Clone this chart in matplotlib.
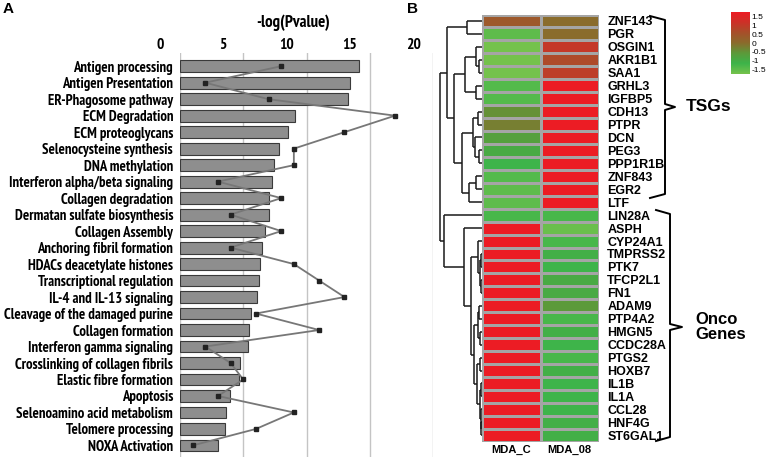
import numpy as np
import matplotlib
matplotlib.use("Agg")
import matplotlib.pyplot as plt
from matplotlib import font_manager as fm
from matplotlib.colors import LinearSegmentedColormap
from matplotlib.transforms import ScaledTranslation

# Panel A: pathway enrichment
pathways = [
    "Antigen processing", "Antigen Presentation", "ER-Phagosome pathway",
    "ECM Degradation", "ECM proteoglycans", "Selenocysteine synthesis",
    "DNA methylation", "Interferon alpha/beta signaling", "Collagen degradation",
    "Dermatan sulfate biosynthesis", "Collagen Assembly", "Anchoring fibril formation",
    "HDACs deacetylate histones", "Transcriptional regulation", "IL-4 and IL-13 signaling",
    "Cleavage of the damaged purine", "Collagen formation", "Interferon gamma signaling",
    "Crosslinking of collagen fibrils", "Elastic fibre formation", "Apoptosis",
    "Selenoamino acid metabolism", "Telomere processing", "NOXA Activation",
]
neg_log_p = [14.15, 13.4, 13.25, 9.07, 8.5, 7.85, 7.43, 7.25, 7.06, 7.0, 6.72, 6.46,
             6.32, 6.27, 6.06, 5.59, 5.45, 5.35, 4.77, 4.69, 3.95, 3.64, 3.53, 2.98]
gene_counts = [8, 2, 7, 17, 13, 9, 9, 3, 8, 4, 8, 4, 9, 11, 13, 6, 11, 2, 4, 5, 3, 9, 6, 1]
x_ticks = [0, 5, 10, 15, 20]

# Panel B: heatmap
genes = ["ZNF143", "PGR", "OSGIN1", "AKR1B1", "SAA1", "GRHL3", "IGFBP5", "CDH13",
         "PTPR", "DCN", "PEG3", "PPP1R1B", "ZNF843", "EGR2", "LTF",
         "LIN28A", "ASPH", "CYP24A1", "TMPRSS2", "PTK7", "TFCP2L1", "FN1", "ADAM9",
         "PTP4A2", "HMGN5", "CCDC28A", "PTGS2", "HOXB7", "IL1B", "IL1A", "CCL28",
         "HNF4G", "ST6GAL1"]
samples = ["MDA_C", "MDA_08"]
mda_c = [0.35, -1.3, -1.5, -1.5, -1.5, -1.2, -1.2, -0.4, -0.2, -0.6, -0.8, -1.0,
         -1.2, -1.3, -1.3, -1.1] + [1.5] * 17
mda_08 = [0.0, 0.0, 0.9, 0.6, 0.8, 1.5, 1.5, 1.5, 1.5, 1.5, 1.5, 1.5, 1.5, 1.5, 1.5,
          -1.1, -1.4, -1.1, -0.9, -1.0, -0.8, -0.8, -0.5, -1.1, -0.9, -1.0, -1.1,
          -0.9, -1.0, -1.0, -1.0, -0.9, -0.9]
cbar_ticks = [1.5, 1, 0.5, 0, -0.5, -1, -1.5]

# row clustering tree: (left, right, merge height); ints are row indices
tsg_tree = (
    (0, 1, 15.3),
    (((2, (3, 4, 3), 6), (5, 6, 6), 17),
     (((7, 8, 4), (9, (10, 11, 3), 7), 9.3), ((12, 13, 6), 14, 13), 20.3),
     27.7),
    35.3)
onco_tree = (
    15,
    (16,
     ((17, ((18, 19, 1.5), (20, 21, 1.5), 2.5), 4),
      (((22, 23, 3), (24, 25, 2), 4),
       ((26, 27, 2), ((28, 29, 1.5), (30, (31, 32, 1), 1.5), 2.5), 5), 8),
      11),
     18),
    38)
row_tree = (tsg_tree, onco_tree, 42)

W, H = 767, 458
plt.rcParams["font.family"] = ["Liberation Sans", "DejaVu Sans"]


# look for a narrow bold face for panel A (Arial Narrow look)
def narrow_bold():
    best = None
    for f in fm.fontManager.ttflist:
        name = (f.name + " " + str(f.stretch)).lower()
        narrow = any(k in name for k in ("narrow", "condensed")) or f.stretch in (
            "condensed", "semi-condensed", "extra-condensed")
        if not narrow:
            continue
        w = f.weight if isinstance(f.weight, int) else 400
        if f.weight == "bold":
            w = 700
        score = abs(w - 700) + (0 if "narrow" in name else 1)
        if best is None or score < best[0]:
            best = (score, f.fname)
    if best is None:
        return fm.FontProperties(family="Liberation Sans", weight="bold")
    return fm.FontProperties(fname=best[1])


NB = narrow_bold()


def px(x, y):
    return x / W, 1 - y / H


fig = plt.figure(figsize=(W / 100, H / 100), dpi=100)
renderer = fig.canvas.get_renderer()

# fit label size so the widest label spans about 171 px
widest = 0
for name in pathways:
    probe = fig.text(0, 0, name, fontproperties=NB, fontsize=10)
    widest = max(widest, probe.get_window_extent(renderer).width)
    probe.remove()
lab_size = min(11.0, 10 * 171 / widest)

# ---- panel A ----
axA = fig.add_axes([180 / W, 1 - 457 / H, 253 / W, 404 / H])
ypos = np.arange(len(pathways))
axA.barh(ypos, neg_log_p, height=0.72, color="#8e8e8e", edgecolor="#3a3a3a",
         linewidth=0.8, zorder=2)
axA.plot(gene_counts, ypos, color="#777777", lw=1.3, marker="s", ms=3.5,
         mfc="#222222", mec="#222222", zorder=3)
axA.set_xlim(0, 20)
axA.set_ylim(23.7, -0.8)
axA.set_xticks(x_ticks)
axA.xaxis.tick_top()
axA.tick_params(axis="x", length=0, pad=1)
for lab in axA.get_xticklabels():
    lab.set_fontproperties(NB)
    lab.set_fontsize(lab_size + 0.5)
    lab.set_transform(lab.get_transform() + ScaledTranslation(-0.2, 0, fig.dpi_scale_trans))
axA.set_yticks(ypos)
axA.set_yticklabels(pathways, fontproperties=NB, fontsize=lab_size)
axA.tick_params(axis="y", length=0, pad=5)
axA.grid(axis="x", color="#c4c4c4", lw=1, zorder=0)
for s in axA.spines.values():
    s.set_visible(False)
fig.text(*px(293, 23), "-log(Pvalue)", ha="center", va="center",
         fontproperties=NB, fontsize=lab_size + 1.5)
fig.text(*px(8, 9), "A", ha="center", va="center", fontsize=11, fontweight="bold")
fig.text(*px(412, 9), "B", ha="center", va="center", fontsize=11, fontweight="bold")

# ---- panel B heatmap ----
axH = fig.add_axes([482 / W, 1 - 441.7 / H, 117 / W, 427.2 / H])
cmap = LinearSegmentedColormap.from_list("gr", [
    (0.0, "#74c24c"), (1 / 6, "#3db44a"), (2 / 6, "#5c9a3a"), (0.5, "#8a6c2c"),
    (4 / 6, "#a6502a"), (5 / 6, "#cc3228"), (1.0, "#ec1c24")])
data = np.column_stack([mda_c, mda_08])
axH.pcolormesh(data, cmap=cmap, vmin=-1.5, vmax=1.5, edgecolors="#a5a5a5",
               linewidth=0.8)
axH.set_xlim(0, 2)
axH.set_xticks([0.5, 1.5])
axH.set_xticklabels(samples, fontsize=8, fontweight="bold")
axH.yaxis.tick_right()
axH.set_yticks(np.arange(len(genes)) + 0.5)
axH.set_yticklabels(genes, fontsize=9, fontweight="bold")
axH.tick_params(axis="y", length=0, pad=6)
axH.tick_params(axis="x", length=0, pad=2)
for s in axH.spines.values():
    s.set_visible(False)

# ---- dendrogram ----
axD = fig.add_axes([436 / W, 1 - 441.7 / H, 46 / W, 427.2 / H], sharey=axH)
axD.set_xlim(46, 0)


def draw(node):
    if isinstance(node, int):
        return node + 0.5, 0.0
    a, b, h = node
    ya, ha = draw(a)
    yb, hb = draw(b)
    kw = dict(color="#1a1a1a", lw=1.1, solid_capstyle="butt")
    axD.plot([ha, h], [ya, ya], **kw)
    axD.plot([hb, h], [yb, yb], **kw)
    axD.plot([h, h], [ya, yb], **kw)
    return (ya + yb) / 2, h


draw(row_tree)
axD.axis("off")
axH.set_ylim(len(genes), 0)

# ---- colorbar ----
axC = fig.add_axes([731 / W, 1 - 74 / H, 18 / W, 62 / H])
grad = np.linspace(1.5, -1.5, 100).reshape(-1, 1)
axC.imshow(grad, cmap=cmap, vmin=-1.5, vmax=1.5, aspect="auto",
           extent=[0, 1, -1.5 - 0.25, 1.5 + 0.25])
axC.set_xticks([])
axC.yaxis.tick_right()
axC.set_yticks(cbar_ticks)
axC.set_yticklabels([f"{t:g}" for t in cbar_ticks], fontsize=6)
axC.tick_params(length=0, pad=2)
for s in axC.spines.values():
    s.set_visible(False)


# ---- group braces ----
def brace(x0, x1, y_top, y_bot, y_mid, tip):
    bx = [x0, x1, x1, tip, x1, x1, x0]
    by = [y_top, y_top + 4, y_mid - 3, y_mid, y_mid + 3, y_bot - 4, y_bot]
    fig.add_artist(plt.Line2D([x / W for x in bx], [1 - y / H for y in by],
                              color="black", lw=1.4))


brace(650, 665, 16, 198, 107, 675)
brace(656, 670, 210, 441, 327, 682)
fig.text(*px(686, 107), "TSGs", ha="left", va="center", fontsize=12.5, fontweight="bold")
fig.text(*px(695, 327), "Onco\nGenes", ha="left", va="center", fontsize=12,
         fontweight="bold", linespacing=1.05)

fig.savefig("out.png", dpi=100)
